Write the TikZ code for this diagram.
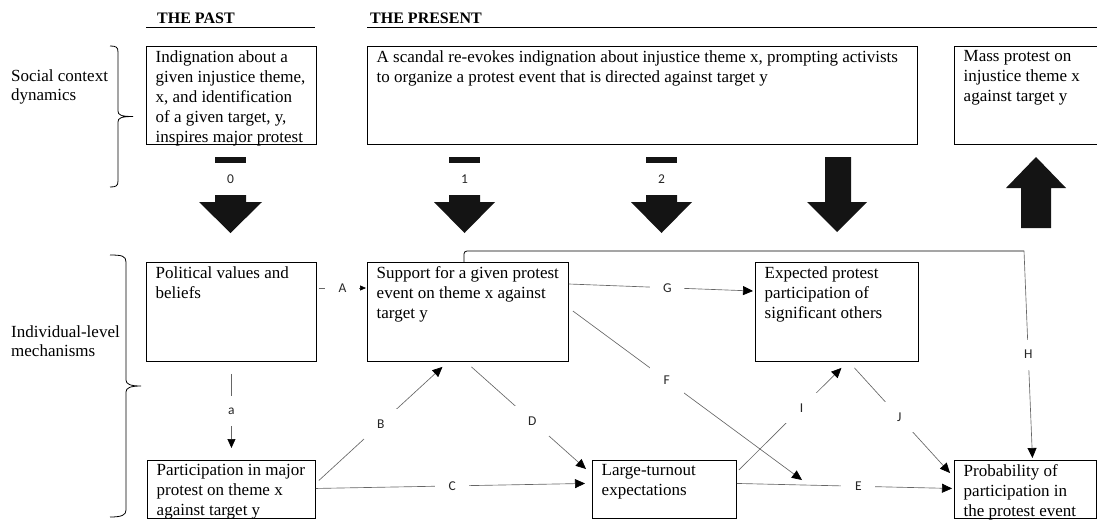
\documentclass[tikz,border=0pt]{standalone}
\usepackage{fontspec}
\setmainfont{Liberation Serif}
\newfontfamily\labfont{Carlito}
\usetikzlibrary{arrows.meta,calc}
\begin{document}
\begin{tikzpicture}[x=1pt,y=-1pt,
  box/.style={draw=black,line width=0.9pt,anchor=north west,inner sep=0pt},
  txt/.style={anchor=north west,align=left,inner xsep=9.5pt,inner ysep=4.5pt,font=\fontsize{17}{20}\selectfont},
  side/.style={anchor=west,align=left,inner sep=0pt,font=\fontsize{17}{19}\selectfont},
  head/.style={anchor=base west,inner sep=0pt,font=\bfseries\fontsize{16}{18}\selectfont},
  rule/.style={draw=black,line width=0.9pt},
  brc/.style={draw=black,line width=0.8pt},
  blk/.style={fill=black!92},
  num/.style={inner sep=0pt,font=\labfont\fontsize{13.5}{15}\selectfont,text=black!85},
  conn/.style={draw=black!60,line width=0.65pt},
  big/.style={-{Triangle[length=10pt,width=9pt,color=black]}},
  lab/.style={fill=white,inner sep=0pt,minimum width=34pt,minimum height=30pt,font=\labfont\fontsize{13.5}{15}\selectfont,text=black!85}
]
\useasboundingbox (0,0) rectangle (1097,520);

% headers
\node[head] (hpast) at (157,23) {THE PAST};
\node[head] (hpres) at (370,23) {THE PRESENT};
\draw[rule] (146,27.5) -- (315,27.5);
\draw[rule] (367,27.5) -- (1100,27.5);

% side labels and braces
\node[side] (soc) at (11,87) {Social context\\dynamics};
\node[side] (ind) at (11,341) {Individual-level\\mechanisms};
\draw[brc] (110,46) .. controls (116,46) and (118,47) .. (118,52) -- (118,111)
  .. controls (118,115) and (121,116.5) .. (133,116.5)
  .. controls (121,116.5) and (118,118) .. (118,122) -- (118,181)
  .. controls (118,186) and (116,187) .. (110,187);
\draw[brc] (110,255) .. controls (122,255) and (126,256) .. (126,262) -- (126,380)
  .. controls (126,384) and (130,386) .. (141,386)
  .. controls (130,386) and (126,388) .. (126,392) -- (126,510)
  .. controls (126,515) and (122,517) .. (110,517);

% top row boxes
\node[box,minimum width=170pt,minimum height=98pt] (past) at (146,46) {};
\node[txt] (pastT) at (past.north west) {Indignation about a\\given injustice theme,\\x, and identification\\of a given target, y,\\inspires major protest};
\node[box,minimum width=550pt,minimum height=98pt] (pres) at (367,46) {};
\node[txt] (presT) at (pres.north west) {A scandal re-evokes indignation about injustice theme x, prompting activists\\to organize a protest event that is directed against target y};
\node[box,minimum width=150pt,minimum height=98pt] (mass) at (954,46) {};
\node[txt] (massT) at (mass.north west) {Mass protest on\\injustice theme x\\against target y};

% big block arrows
\fill[blk] (215,157) rectangle (246,163);
\node[num] (n0) at (230.5,179) {0};
\fill[blk] (215,195) -- (246,195) -- (246,202) -- (262,202) -- (230.5,233) -- (199,202) -- (215,202) -- cycle;
\fill[blk] (449,157) rectangle (480,163);
\node[num] (n1) at (464.5,179) {1};
\fill[blk] (449,195) -- (480,195) -- (480,202) -- (495,202) -- (464.5,233) -- (434,202) -- (449,202) -- cycle;
\fill[blk] (646,157) rectangle (677,163);
\node[num] (n2) at (661.5,179) {2};
\fill[blk] (646,195) -- (677,195) -- (677,202) -- (692,202) -- (661.5,233) -- (631,202) -- (646,202) -- cycle;
\fill[blk] (825,157) -- (851,157) -- (851,202) -- (867,202) -- (837,232) -- (807,202) -- (825,202) -- cycle;
\fill[blk] (1036,157) -- (1066,188) -- (1051,188) -- (1051,228) -- (1021,228) -- (1021,188) -- (1006,188) -- cycle;

% bottom boxes
\node[box,minimum width=170pt,minimum height=99pt] (pol) at (146,262) {};
\node[txt] (polT) at (pol.north west) {Political values and\\beliefs};
\node[box,minimum width=201pt,minimum height=99pt] (sup) at (367,262) {};
\node[txt] (supT) at (sup.north west) {Support for a given protest\\event on theme x against\\target y};
\node[box,minimum width=163pt,minimum height=99pt] (exp) at (755,262) {};
\node[txt] (expT) at (exp.north west) {Expected protest\\participation of\\significant others};
\node[box,minimum width=168pt,minimum height=58pt] (part) at (147,460) {};
\node[txt] (partT) at (part.north west) {Participation in major\\protest on theme x\\against target y};
\node[box,minimum width=144pt,minimum height=58pt] (lt) at (592,460) {};
\node[txt] (ltT) at (lt.north west) {Large-turnout\\expectations};
\node[box,minimum width=142pt,minimum height=58pt] (prob) at (954,460) {};
\node[txt] (probT) at (prob.north west) {Probability of\\participation in\\the protest event};

% connectors
\draw[conn,-{Triangle[length=6pt,width=5pt,color=black]}] ($(pol.north east)+(2,26)$) -- node[lab] (lA) {A} ($(sup.north west)+(-1,26)$);
\draw[conn,-{Triangle[length=9pt,width=8pt,color=black]}] ($(pol.south)+(0,12)$) -- node[lab] (la) {a} ($(part.north)+(0,-12)$);
\draw[conn,big] ($(part.east)+(3,-9)$) -- node[lab] (lB) {B} ($(sup.south)+(-25.5,5)$);
\draw[conn,big] ($(part.east)+(0,-1)$) -- node[lab,pos=0.507] (lC) {C} ($(lt.west)+(-7,-6)$);
\draw[conn,big] ($(sup.south)+(3.5,5)$) -- node[lab,pos=0.53] (lD) {D} ($(lt.north west)+(-6,9)$);
\draw[conn,big] ($(lt.east)+(0,-6)$) -- node[lab,pos=0.565] (lE) {E} ($(prob.west)+(-2,-1)$);
\coordinate (Fend) at (802,480);
\draw[conn,big] ($(sup.north east)+(4,49)$) -- node[lab,pos=0.41] (lF) {F} (Fend);
\draw[conn,big] ($(sup.north east)+(0,22)$) -- node[lab,pos=0.535] (lG) {G} ($(exp.north west)+(-2,29)$);
\draw[conn,big] ($(lt.north east)+(2,10)$) -- node[lab,pos=0.61] (lI) {I} ($(exp.south)+(4.5,6)$);
\draw[conn,big] ($(exp.south)+(17.5,6)$) -- node[lab,pos=0.47] (lJ) {J} ($(prob.north west)+(-4,13)$);
\coordinate (Hc) at (1024,251);
\draw[draw=black,line width=0.8pt,rounded corners=3pt] ($(sup.north)+(-4,0)$) |- (Hc);
\draw[conn,big] (Hc) -- node[lab] (lH) {H} ($(prob.north)+(7,-2)$);
\end{tikzpicture}
\end{document}
